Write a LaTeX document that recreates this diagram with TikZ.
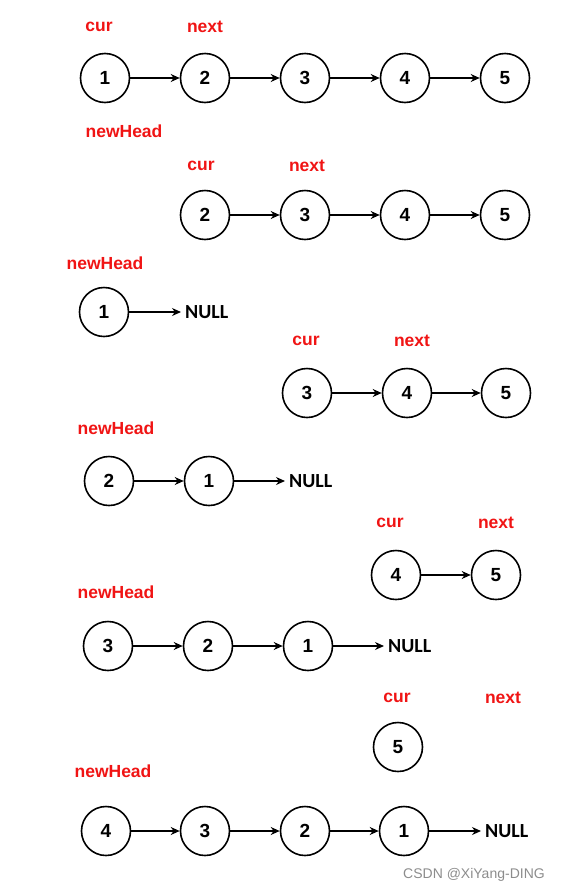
\documentclass[tikz,border=0pt]{standalone}
\usepackage{fontspec}
\setmainfont{Liberation Sans}
\newfontfamily\carlitofam{Carlito}
\usetikzlibrary{arrows.meta}
\definecolor{lblred}{RGB}{240,20,20}
\tikzset{
  nd/.style={circle,draw=black,line width=1.6pt,minimum size=49pt,inner sep=0pt,font=\fontsize{19}{21}\selectfont\bfseries},
  lbl/.style={text=lblred,font=\fontsize{17.5}{20}\selectfont\bfseries,inner sep=0pt},
  nul/.style={font=\carlitofam\fontsize{20}{22}\selectfont\bfseries,inner sep=0pt,anchor=west},
  ar/.style={-{Stealth[length=9pt,width=8pt]},line width=1.3pt},
  arn/.style={ar,shorten >=4pt}
}
\begin{document}
\begin{tikzpicture}[x=1pt,y=-1pt]
\useasboundingbox (0,0) rectangle (563,892);
% Row 1
\node[lbl] (c1) at (99,27) {cur};
\node[lbl] (n1) at (205,27) {next};
\node[nd] (a1) at (105,78) {1};
\node[nd] (a2) at (205,78) {2};
\node[nd] (a3) at (305,78) {3};
\node[nd] (a4) at (405,78) {4};
\node[nd] (a5) at (505,78) {5};
\draw[ar] (a1) -- (a2);
\draw[ar] (a2) -- (a3);
\draw[ar] (a3) -- (a4);
\draw[ar] (a4) -- (a5);
\node[lbl] (h1) at (124,131) {newHead};
% Row 2
\node[lbl] (c2) at (201,166) {cur};
\node[lbl] (n2) at (307,166) {next};
\node[nd] (b2) at (205,215) {2};
\node[nd] (b3) at (305,215) {3};
\node[nd] (b4) at (405,215) {4};
\node[nd] (b5) at (505,215) {5};
\draw[ar] (b2) -- (b3);
\draw[ar] (b3) -- (b4);
\draw[ar] (b4) -- (b5);
\node[lbl] (h2) at (105,263) {newHead};
\node[nd] (d1) at (104,312) {1};
\node[nul] (dn) at (185,312) {NULL};
\draw[arn] (d1) -- (dn.west);
% Row 3
\node[lbl] (c3) at (306,341) {cur};
\node[lbl] (n3) at (412,341) {next};
\node[nd] (e3) at (307,393) {3};
\node[nd] (e4) at (407,393) {4};
\node[nd] (e5) at (506,393) {5};
\draw[ar] (e3) -- (e4);
\draw[ar] (e4) -- (e5);
\node[lbl] (h3) at (116,428) {newHead};
\node[nd] (f2) at (109,481) {2};
\node[nd] (f1) at (209,481) {1};
\node[nul] (fn) at (289,481) {NULL};
\draw[ar] (f2) -- (f1);
\draw[arn] (f1) -- (fn.west);
% Row 4
\node[lbl] (c4) at (390,523) {cur};
\node[lbl] (n4) at (496,523) {next};
\node[nd] (g4) at (396,575) {4};
\node[nd] (g5) at (496,575) {5};
\draw[ar] (g4) -- (g5);
\node[lbl] (h4) at (116,592) {newHead};
\node[nd] (k3) at (108,646) {3};
\node[nd] (k2) at (208,646) {2};
\node[nd] (k1) at (308,646) {1};
\node[nul] (kn) at (388,646) {NULL};
\draw[ar] (k3) -- (k2);
\draw[ar] (k2) -- (k1);
\draw[arn] (k1) -- (kn.west);
% Row 5
\node[lbl] (c5) at (397,698) {cur};
\node[lbl] (n5) at (503,698) {next};
\node[nd] (m5) at (398,747) {5};
\node[lbl] (h5) at (113,771) {newHead};
\node[nd] (p4) at (106,831) {4};
\node[nd] (p3) at (205,831) {3};
\node[nd] (p2) at (305,831) {2};
\node[nd] (p1) at (404,831) {1};
\node[nul] (pn) at (485,831) {NULL};
\draw[ar] (p4) -- (p3);
\draw[ar] (p3) -- (p2);
\draw[ar] (p2) -- (p1);
\draw[arn] (p1) -- (pn.west);
\node[text=black!45,font=\fontsize{14}{16}\selectfont,inner sep=0pt] (wm) at (474,875) {CSDN @XiYang-DING};
\end{tikzpicture}
\end{document}
